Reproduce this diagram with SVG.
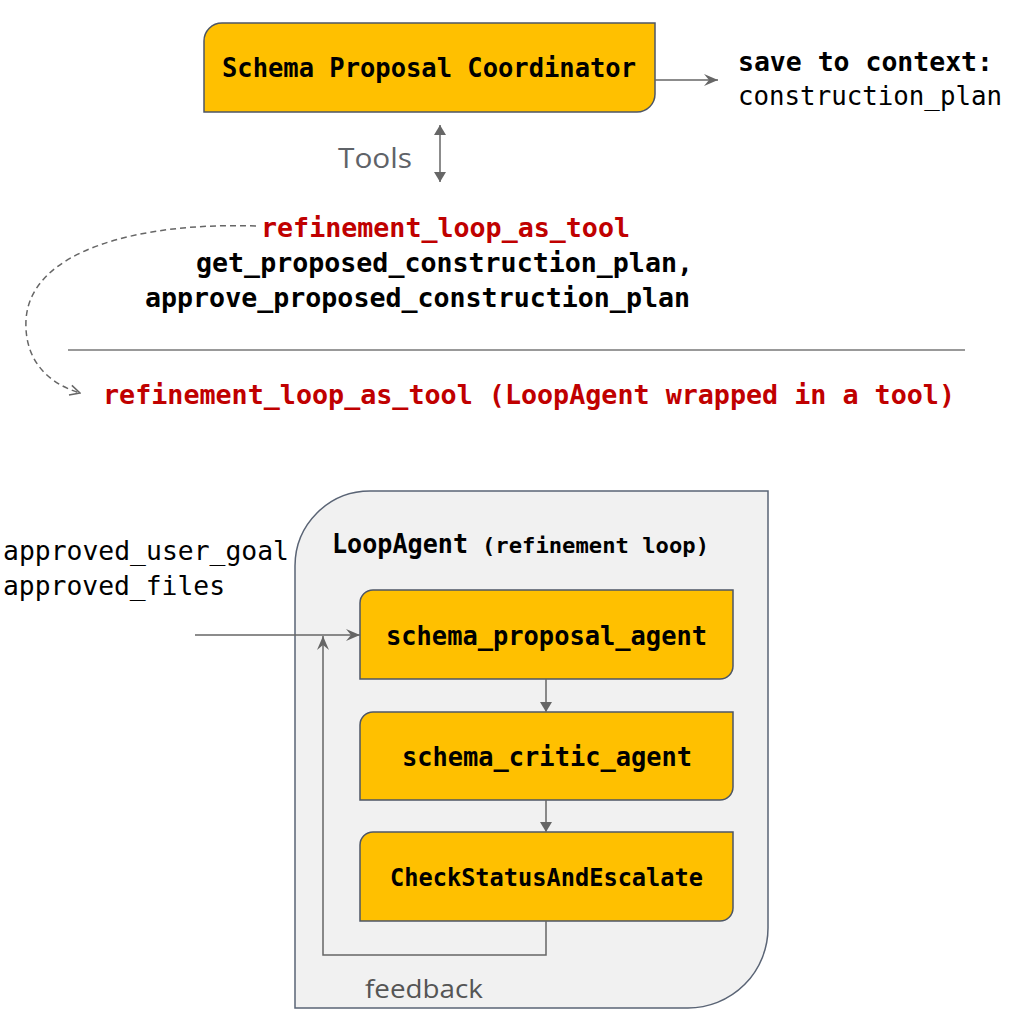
<svg xmlns="http://www.w3.org/2000/svg" width="1011" height="1017" viewBox="0 0 1011 1017">
<defs>
<style>
.box{fill:#FFC000;stroke:#4d5666;stroke-width:1.5}
.cont{fill:#f1f1f1;stroke:#5a6475;stroke-width:1.5}
.mono{font-family:"DejaVu Sans Mono","Liberation Mono",monospace}
.b{font-weight:bold}
.red{fill:#C00000}
.blk{fill:#000}
.conn{fill:none;stroke:#666;stroke-width:1.5}
.dash{fill:none;stroke:#666;stroke-width:1.5;stroke-dasharray:6 4}
.sans{font-family:"Open Sans","DejaVu Sans",sans-serif}
</style>
<marker id="ah" viewBox="0 0 10 12" refX="10" refY="6" markerWidth="11" markerHeight="12" markerUnits="userSpaceOnUse" orient="auto-start-reverse">
<path d="M0,0 L10,6 L0,12 Z" fill="#666"/>
</marker>
<marker id="ah2" viewBox="0 0 14 12" refX="14" refY="6" markerWidth="14" markerHeight="12" markerUnits="userSpaceOnUse" orient="auto">
<path d="M0,0 L14,6 L0,12 L5,6 Z" fill="#666"/>
</marker>
<marker id="open" viewBox="0 0 12 12" refX="11" refY="6" markerWidth="12" markerHeight="12" markerUnits="userSpaceOnUse" orient="auto">
<path d="M1,1 L11,6 L1,11" fill="none" stroke="#666" stroke-width="1.5"/>
</marker>
</defs>
<rect width="1011" height="1017" fill="#fff"/>

<g id="coordinator">
<path class="box" d="M204,41 A18,18 0 0 1 222,23 H655 V94 A18,18 0 0 1 637,112 H204 Z"/>
<text class="mono b blk" x="222" y="77" font-size="26" textLength="414" lengthAdjust="spacingAndGlyphs">Schema Proposal Coordinator</text>
</g>

<g id="save-context">
<text class="mono b blk" x="738" y="71" font-size="26.5" textLength="255" lengthAdjust="spacingAndGlyphs">save to context:</text>
<text class="mono blk" x="738" y="105" font-size="25.8">construction_plan</text>
</g>

<g id="tools-label">
<text class="sans" x="338" y="168" font-size="28" fill="#5f6368" textLength="74" lengthAdjust="spacingAndGlyphs">Tools</text>
</g>

<g id="tool-list">
<text class="mono b red" x="261" y="237" font-size="27" textLength="369" lengthAdjust="spacingAndGlyphs">refinement_loop_as_tool</text>
<text class="mono b blk" x="196" y="272" font-size="27" textLength="497" lengthAdjust="spacingAndGlyphs">get_proposed_construction_plan,</text>
<text class="mono b blk" x="145" y="307" font-size="27" textLength="545" lengthAdjust="spacingAndGlyphs">approve_proposed_construction_plan</text>
</g>

<g id="separator">
<line x1="68" y1="350" x2="965" y2="350" stroke="#777" stroke-width="1.5"/>
</g>

<g id="wrapped-title">
<text class="mono b red" x="103" y="404" font-size="27" textLength="852" lengthAdjust="spacingAndGlyphs">refinement_loop_as_tool (LoopAgent wrapped in a tool)</text>
</g>

<g id="inputs">
<text class="mono blk" x="3" y="560" font-size="27" textLength="286" lengthAdjust="spacingAndGlyphs">approved_user_goal</text>
<text class="mono blk" x="3" y="595" font-size="27" textLength="222" lengthAdjust="spacingAndGlyphs">approved_files</text>
</g>

<g id="loop-agent">
<path class="cont" d="M295,566 A75,75 0 0 1 370,491 H768 V928 A80,80 0 0 1 688,1008 H295 Z"/>
<text class="mono b blk" x="332" y="553" font-size="26" textLength="136" lengthAdjust="spacingAndGlyphs">LoopAgent</text>
<text class="mono b blk" x="482" y="553" font-size="22" textLength="227" lengthAdjust="spacingAndGlyphs">(refinement loop)</text>
<text class="sans" x="365" y="998" font-size="25" fill="#555" textLength="118" lengthAdjust="spacingAndGlyphs">feedback</text>
</g>

<g id="schema-proposal-agent">
<path class="box" d="M360,603 A13,13 0 0 1 373,590 H733 V666 A13,13 0 0 1 720,679 H360 Z"/>
<text class="mono b blk" x="386" y="645" font-size="26" textLength="321" lengthAdjust="spacingAndGlyphs">schema_proposal_agent</text>
</g>

<g id="schema-critic-agent">
<path class="box" d="M360,725 A13,13 0 0 1 373,712 H733 V787 A13,13 0 0 1 720,800 H360 Z"/>
<text class="mono b blk" x="402" y="766" font-size="26" textLength="290" lengthAdjust="spacingAndGlyphs">schema_critic_agent</text>
</g>

<g id="check-status">
<path class="box" d="M360,845 A13,13 0 0 1 373,832 H733 V908 A13,13 0 0 1 720,921 H360 Z"/>
<text class="mono b blk" x="390" y="886" font-size="25" textLength="313" lengthAdjust="spacingAndGlyphs">CheckStatusAndEscalate</text>
</g>

<g id="connectors">
<line class="conn" x1="655" y1="80" x2="718" y2="80" marker-end="url(#ah2)"/>
<line class="conn" x1="440" y1="125" x2="440" y2="182" marker-start="url(#ah)" marker-end="url(#ah)"/>
<path class="dash" d="M256,226 C140,222 30,250 26,320 C24,362 50,384 80,393" marker-end="url(#open)"/>
<line class="conn" x1="195" y1="635" x2="360" y2="635" marker-end="url(#ah2)"/>
<line class="conn" x1="546" y1="679" x2="546" y2="712" marker-end="url(#ah)"/>
<line class="conn" x1="546" y1="800" x2="546" y2="832" marker-end="url(#ah)"/>
<path class="conn" d="M546,921 V955 H323 V636" marker-end="url(#ah2)"/>
</g>
</svg>
